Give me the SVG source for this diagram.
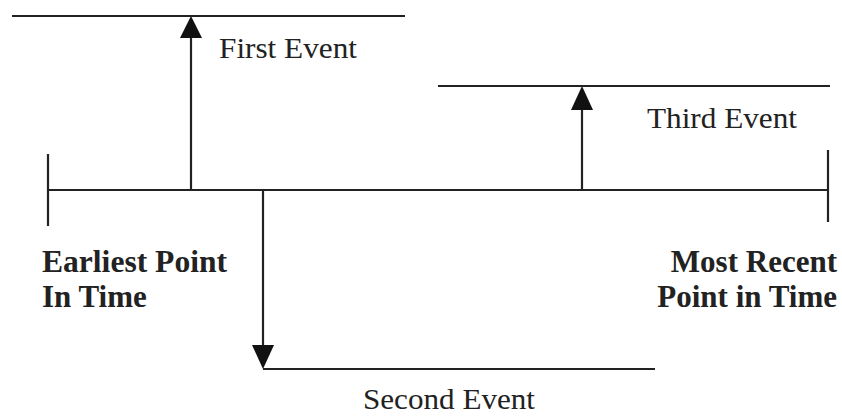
<svg xmlns="http://www.w3.org/2000/svg" width="842" height="417" viewBox="0 0 842 417">
<style>
.ln{stroke:#222;stroke-width:2.2;fill:none}
.ah{fill:#111}
.t{font-family:"Liberation Serif","Times New Roman",serif;font-size:30px;fill:#222}
.b{font-weight:bold;font-size:31px}
</style>
<rect width="842" height="417" fill="#fff"/>
<g id="connectors">
<line class="ln" x1="48" y1="190" x2="828" y2="190"/>
<line class="ln" x1="48" y1="154" x2="48" y2="226"/>
<line class="ln" x1="828" y1="150" x2="828" y2="222"/>
<line class="ln" x1="191" y1="190" x2="191" y2="36"/>
<polygon class="ah" points="191,16 180,38 202,38"/>
<line class="ln" x1="263" y1="190" x2="263" y2="347"/>
<polygon class="ah" points="263,369 252,345 274,345"/>
<line class="ln" x1="582" y1="190" x2="582" y2="108"/>
<polygon class="ah" points="582,86 571,110 593,110"/>
</g>
<g id="first-event">
<line class="ln" x1="12" y1="16" x2="405" y2="16"/>
<text class="t" x="219" y="58" textLength="138" lengthAdjust="spacingAndGlyphs">First Event</text>
</g>
<g id="second-event">
<line class="ln" x1="263" y1="369" x2="655" y2="369"/>
<text class="t" x="363" y="409" font-size="28" textLength="172" lengthAdjust="spacingAndGlyphs">Second Event</text>
</g>
<g id="third-event">
<line class="ln" x1="438" y1="86" x2="830" y2="86"/>
<text class="t" x="647" y="128" textLength="150" lengthAdjust="spacingAndGlyphs">Third Event</text>
</g>
<g id="earliest">
<text class="t b" x="42" y="272" textLength="185" lengthAdjust="spacingAndGlyphs">Earliest Point</text>
<text class="t b" x="42" y="307">In Time</text>
</g>
<g id="most-recent">
<text class="t b" x="837" y="272" text-anchor="end">Most Recent</text>
<text class="t b" x="837" y="307" text-anchor="end">Point in Time</text>
</g>
</svg>
